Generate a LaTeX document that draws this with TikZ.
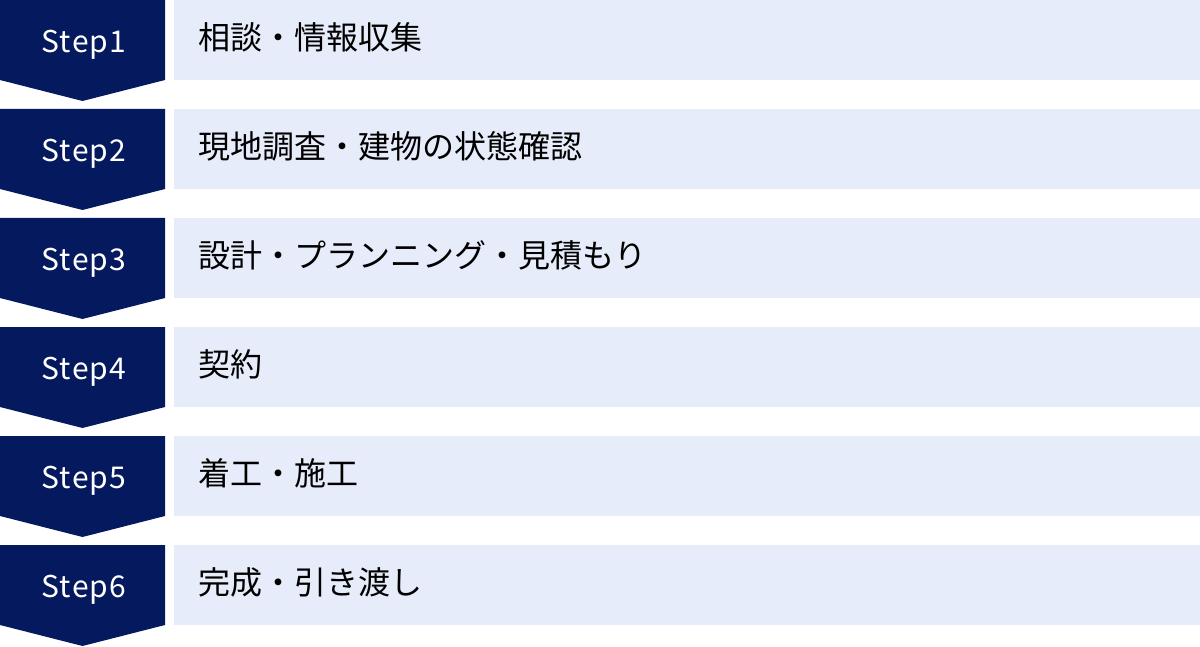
\documentclass[tikz,border=0pt]{standalone}
\usepackage{fontspec}
\setmainfont{Noto Sans CJK JP}
\newfontfamily\stepfont[LetterSpace=4]{Noto Sans CJK JP}
\definecolor{navy}{HTML}{05195E}
\definecolor{pale}{HTML}{E6ECF9}
\begin{document}
\begin{tikzpicture}[x=1pt,y=-1pt,
  chev/.style={fill=navy},
  lightbox/.style={fill=pale,draw=none,minimum width=1026pt,minimum height=80pt,inner sep=0pt,anchor=north west},
  steplbl/.style={text=white,inner sep=0pt,anchor=base,font=\stepfont\fontsize{30}{36}\selectfont},
  desc/.style={text=black,inner sep=0pt,anchor=base west,font=\fontsize{32}{38}\selectfont}]
\useasboundingbox (0,0) rectangle (1200,647);
\foreach \i/\t in {1/相談・情報収集,2/現地調査・建物の状態確認,3/設計・プランニング・見積もり,4/契約,5/着工・施工,6/完成・引き渡し}{
  \pgfmathsetmacro{\T}{109*(\i-1)}
  \fill[chev] (0,\T) -- (165,\T) -- (165,\T+80) -- (82.5,\T+101) -- (0,\T+80) -- cycle;
  \node[steplbl] (s\i) at (84,\T+52.4) {Step\i};
  \node[lightbox] (b\i) at (174,\T) {};
  \node[desc] (d\i) at (198.5,\T+49.5) {\t};
}
\end{tikzpicture}
\end{document}
